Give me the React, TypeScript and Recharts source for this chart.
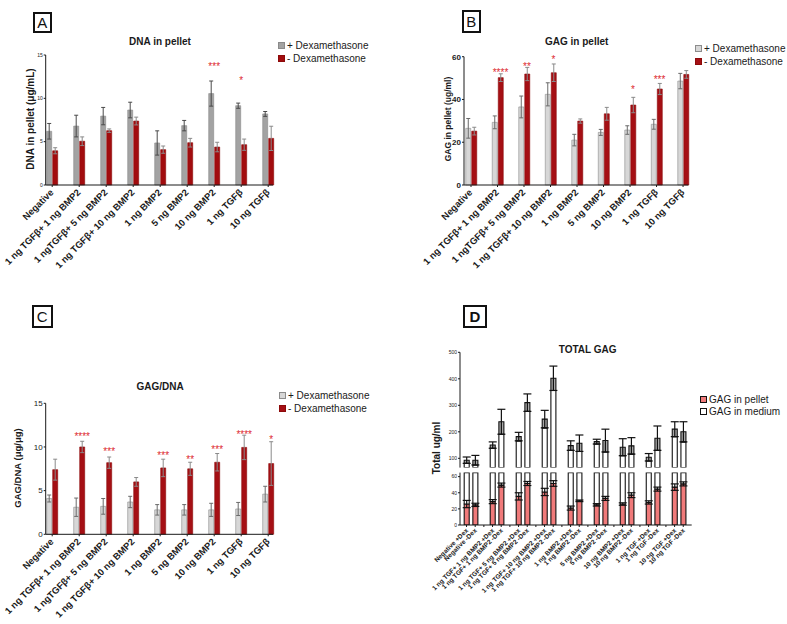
import React from 'react';
import { ComposedChart, Bar, Line, XAxis, YAxis, ErrorBar, LabelList, Legend } from 'recharts';

const FONT = '"Liberation Sans", Arial, Helvetica, sans-serif';
const INK = '#1a1a1a';
const STAR_RED = '#dd2a2f';

// ---------- shared categories (panels A, B, C) ----------
const groupLabels = [
  'Negative',
  '1 ng TGFβ+ 1 ng BMP2',
  '1 ngTGFβ+ 5 ng BMP2',
  '1 ng TGFβ+ 10 ng BMP2',
  '1 ng BMP2',
  '5 ng BMP2',
  '10 ng BMP2',
  '1 ng TGFβ',
  '10 ng TGFβ',
];

// ---------- Panel A: DNA in pellet ----------
const dnaPlus = [6.2, 6.8, 7.95, 8.65, 4.85, 6.85, 10.55, 9.15, 8.2];
const dnaPlusErr = [0.9, 1.25, 1.0, 0.9, 1.4, 0.6, 1.45, 0.3, 0.28];
const dnaMinus = [3.95, 5.05, 6.27, 7.38, 4.08, 4.88, 4.38, 4.65, 5.38];
const dnaMinusErr = [0.35, 0.5, 0.2, 0.45, 0.42, 0.5, 0.55, 0.65, 1.4];
const dnaStars = ['', '', '', '', '', '', '***', '*', ''];
const dnaStarY: (number | null)[] = [null, null, null, null, null, null, 13.85, 12.3, null];

// ---------- Panel B: GAG in pellet ----------
const gagPlus = [26.5, 29.3, 36.5, 42.4, 21.0, 24.6, 25.7, 28.4, 48.6];
const gagPlusErr = [4.6, 3.0, 5.1, 5.4, 2.7, 1.4, 2.0, 2.3, 3.6];
const gagMinus = [25.2, 50.2, 51.9, 52.5, 29.9, 33.3, 37.4, 44.9, 51.7];
const gagMinusErr = [1.8, 1.8, 3.1, 4.1, 1.0, 3.0, 3.6, 2.6, 1.8];
const gagStars = ['', '****', '**', '*', '', '', '*', '***', ''];
const gagStarY: (number | null)[] = [null, 53.4, 56.4, 59.7, null, null, 45.7, 50.2, null];

// ---------- Panel C: GAG/DNA ----------
const ratioPlus = [4.1, 3.1, 3.2, 3.7, 2.8, 2.8, 2.8, 2.9, 4.6];
const ratioPlusErr = [0.4, 1.05, 0.9, 0.65, 0.6, 0.6, 0.75, 0.75, 0.9];
const ratioMinus = [7.4, 10.0, 8.2, 6.0, 7.6, 7.5, 8.25, 9.95, 8.1];
const ratioMinusErr = [1.2, 0.65, 0.65, 0.5, 1.0, 0.75, 1.0, 1.4, 2.5];
const ratioStars = ['', '****', '***', '', '***', '**', '***', '****', '*'];
const ratioStarY: (number | null)[] = [null, 11.45, 9.75, null, 9.25, 8.85, 9.9, 11.65, 11.05];

// ---------- Panel D: TOTAL GAG ----------
const dLabels = [
  'Negative +Dex', 'Negative -Dex',
  '1 ng TGF+ 1 ng BMP2 +Dex', '1 ng TGF+ 1 ng BMP2 -Dex',
  '1 ng TGF+ 5 ng BMP2 +Dex', '1 ng TGF+ 5 ng BMP2 -Dex',
  '1 ng TGF+ 10 ng BMP2 +Dex', '1 ng TGF+ 10 ng BMP2 -Dex',
  '1 ng BMP2 +Dex', '1 ng BMP2 -Dex',
  '5 ng BMP2 +Dex', '5 ng BMP2 -Dex',
  '10 ng BMP2 +Dex', '10 ng BMP2 -Dex',
  '1 ng TGF +Dex', '1 ng TGF -Dex',
  '10 ng TGF +Dex', '10 ng TGF -Dex',
];
const dPellet = [26, 25, 29, 49.5, 35.5, 51.5, 41, 51.5, 21, 30, 25, 33, 26, 37, 28, 44.5, 47, 51];
const dPelletErr = [4.5, 2, 2.5, 2.5, 4.5, 2.5, 4.5, 3.5, 2.5, 1, 1.5, 2.5, 1.5, 3, 2, 2.5, 4, 2.5];
const dTotal = [93, 93, 150, 238, 182, 310, 248, 402, 148, 157, 163, 167, 142, 147, 104, 176, 210, 200];
const dTotalErr = [12, 18, 12, 47, 16, 33, 33, 46, 18, 31, 9, 43, 32, 31, 14, 46, 28, 38];

const dexLegend = ['+ Dexamethasone', '- Dexamethasone'];
const dLegend = ['GAG in pellet', 'GAG in medium'];

// ---------- table builders ----------
type GroupRow = {
  name: string; plus: number; plusErr: number; minus: number; minusErr: number;
  stars: string; starY: number | null;
};
const makeRows = (
  plus: number[], plusErr: number[], minus: number[], minusErr: number[],
  stars: string[], starY: (number | null)[]
): GroupRow[] =>
  groupLabels.map((name, i) => ({
    name, plus: plus[i], plusErr: plusErr[i], minus: minus[i], minusErr: minusErr[i],
    stars: stars[i], starY: starY[i],
  }));

const rowsA = makeRows(dnaPlus, dnaPlusErr, dnaMinus, dnaMinusErr, dnaStars, dnaStarY);
const rowsB = makeRows(gagPlus, gagPlusErr, gagMinus, gagMinusErr, gagStars, gagStarY);
const rowsC = makeRows(ratioPlus, ratioPlusErr, ratioMinus, ratioMinusErr, ratioStars, ratioStarY);

type DRow = {
  key: string; label: string;
  pellet?: number; pelletErr?: number; rest?: number;
  lower?: number; box?: number; boxErr?: number;
};
const dRows: DRow[] = [];
dLabels.forEach((label, i) => {
  dRows.push({
    key: `s${i}`, label,
    pellet: dPellet[i], pelletErr: dPelletErr[i], rest: dTotal[i] - dPellet[i],
    lower: dTotal[i] - dTotalErr[i], box: dTotalErr[i], boxErr: dTotalErr[i],
  });
  if (i % 2 === 1 && i < dLabels.length - 1) dRows.push({ key: `gap${i}`, label: '' });
});
const dLabelByKey: Record<string, string> = {};
dRows.forEach((r) => { dLabelByKey[r.key] = r.label; });

// ---------- small components ----------
type LegendItem = { label: string; fill: string; stroke: string };
const LegendBox = ({ items, rowH, sq }: { items: LegendItem[]; rowH: number; sq: number }) => (
  <div style={{ fontFamily: FONT, fontSize: 10, color: INK }}>
    {items.map((it) => (
      <div key={it.label} style={{ display: 'flex', alignItems: 'center', height: rowH, whiteSpace: 'nowrap' }}>
        <span style={{
          display: 'inline-block', width: sq, height: sq, background: it.fill,
          border: `1px solid ${it.stroke}`, boxSizing: 'border-box', marginRight: 2,
        }} />
        <span>{it.label}</span>
      </div>
    ))}
  </div>
);

const CenterText = ({ x, y, size, bold, rotate, children }: any) => (
  <div style={{
    position: 'absolute', left: x, top: y,
    transform: `translate(-50%,-50%)${rotate ? ` rotate(${rotate}deg)` : ''}`,
    fontSize: size, fontWeight: bold ? 'bold' : 'normal', whiteSpace: 'nowrap',
    lineHeight: 1, color: INK, fontFamily: FONT,
  }}>{children}</div>
);

const PanelLetter = ({ x, y, w, h, letter, bold }: any) => (
  <div style={{
    position: 'absolute', left: x, top: y, width: w, height: h, boxSizing: 'border-box',
    border: '2px solid #111', display: 'flex', alignItems: 'center', justifyContent: 'center',
    fontSize: 15, fontWeight: bold ? 'bold' : 'normal', fontFamily: FONT, color: '#111',
  }}>{letter}</div>
);

const RotTick = (props: any) => {
  const { x, y, payload, fs, ox, oy, lookup } = props;
  const text = lookup ? lookup[payload.value] : payload.value;
  if (!text) return <g />;
  const px = x + ox;
  const py = y + oy;
  return (
    <text x={px} y={py} textAnchor="end" transform={`rotate(-45 ${px} ${py})`}
      fontSize={fs} fontWeight="bold" fill={INK} fontFamily={FONT}>{text}</text>
  );
};

const makeStar = (dx: number) => (p: any) => {
  const value = p.value;
  const x = p.x ?? p.viewBox?.x;
  const y = p.y ?? p.viewBox?.y;
  if (!value || y == null || Number.isNaN(y) || x == null) return null;
  return (
    <text x={x + dx} y={y + 5.5} textAnchor="middle" fontSize={10} fill={STAR_RED} fontFamily={FONT}>
      {value}
    </text>
  );
};

type GroupPanelProps = {
  rows: GroupRow[];
  left: number; top: number; width: number; height: number;
  margin: { top: number; right: number; bottom: number; left: number };
  xHeight: number; domain: [number, number]; ticks: number[];
  yTickFs: number; yTickBold: boolean;
  padL: number; padR: number;
  plusFill: string; plusStroke: string; plusErr: string;
  minusFill: string; minusStroke: string; minusErr: string;
  starDx: number; legendLeft: number; legendTop: number;
};

const GroupPanel = (p: GroupPanelProps) => {
  const items: LegendItem[] = [
    { label: dexLegend[0], fill: p.plusFill, stroke: p.plusStroke },
    { label: dexLegend[1], fill: p.minusFill, stroke: p.minusStroke },
  ];
  return (
    <div style={{ position: 'absolute', left: p.left, top: p.top, width: p.width, height: p.height }}>
      <ComposedChart width={p.width} height={p.height} data={p.rows} margin={p.margin} barGap={1}>
        <XAxis dataKey="name" type="category" interval={0} height={p.xHeight}
          padding={{ left: p.padL, right: p.padR }}
          axisLine={{ stroke: INK }} tickLine={{ stroke: INK }} tickSize={2} tickMargin={0}
          tick={(tp: any) => <RotTick {...tp} fs={9.4} ox={2} oy={6} />} />
        <YAxis type="number" domain={p.domain} ticks={p.ticks} interval={0} width={20}
          axisLine={{ stroke: INK }} tickLine={{ stroke: INK }} tickSize={2} tickMargin={1}
          tick={{ fontSize: p.yTickFs, fill: INK, fontWeight: p.yTickBold ? 'bold' : 'normal', fontFamily: FONT }} />
        <Bar dataKey="plus" barSize={5} fill={p.plusFill} stroke={p.plusStroke} strokeWidth={0.6}
          isAnimationActive={false}>
          <ErrorBar dataKey="plusErr" width={2} stroke={p.plusErr} strokeWidth={1} />
        </Bar>
        <Bar dataKey="minus" barSize={5} fill={p.minusFill} stroke={p.minusStroke} strokeWidth={0.6}
          isAnimationActive={false}>
          <ErrorBar dataKey="minusErr" width={2} stroke={p.minusErr} strokeWidth={1} />
        </Bar>
        <Line dataKey="starY" stroke="none" dot={false} activeDot={false} legendType="none"
          isAnimationActive={false}>
          <LabelList dataKey="stars" content={makeStar(p.starDx)} />
        </Line>
        <Legend layout="vertical" align="center" verticalAlign="middle"
          wrapperStyle={{ left: p.legendLeft, top: p.legendTop, width: 110 }}
          content={() => <LegendBox items={items} rowH={13} sq={7} />} />
      </ComposedChart>
    </div>
  );
};

const PINK = '#f07a7a';

const DPanel = () => {
  const xTick = (tp: any) => <RotTick {...tp} fs={6.5} ox={2} oy={4} lookup={dLabelByKey} />;
  const items: LegendItem[] = [
    { label: dLegend[0], fill: PINK, stroke: '#111' },
    { label: dLegend[1], fill: '#ffffff', stroke: '#111' },
  ];
  const yTick = { fontSize: 5, fill: INK, fontFamily: FONT };
  return (
    <>
      <div style={{ position: 'absolute', left: 400, top: 340, width: 387, height: 130 }}>
        <ComposedChart width={387} height={130} data={dRows}
          margin={{ top: 12.3, right: 95.3, bottom: 2.4, left: 40 }}>
          <XAxis dataKey="key" type="category" interval={0} hide padding={{ left: 2.2, right: 4.1 }} />
          <YAxis type="number" domain={[65, 500]} ticks={[100, 200, 300, 400, 500]} interval={0}
            allowDataOverflow width={20} axisLine={{ stroke: INK }} tickLine={{ stroke: INK }}
            tickSize={2} tickMargin={1} tick={yTick} />
          <Bar dataKey="lower" stackId="m" barSize={5} fill="#ffffff" stroke="#111" strokeWidth={1.1}
            isAnimationActive={false} />
          <Bar dataKey="box" stackId="m" barSize={5} fill="#a9a9a9" stroke="#111" strokeWidth={1.1}
            isAnimationActive={false}>
            <ErrorBar dataKey="boxErr" width={4} stroke="#111" strokeWidth={1.2} />
          </Bar>
          <Legend layout="vertical" align="center" verticalAlign="middle"
            wrapperStyle={{ left: 300, top: 53.5, width: 90 }}
            content={() => <LegendBox items={items} rowH={12.3} sq={7} />} />
        </ComposedChart>
      </div>
      <div style={{ position: 'absolute', left: 400, top: 460, width: 387, height: 164 }}>
        <ComposedChart width={387} height={164} data={dRows}
          margin={{ top: 12.6, right: 95.3, bottom: 9, left: 40 }}>
          <XAxis dataKey="key" type="category" interval={0} height={90}
            padding={{ left: 2.2, right: 4.1 }}
            axisLine={{ stroke: INK }} tickLine={{ stroke: INK }} tickSize={2} tickMargin={0}
            tick={xTick} />
          <YAxis type="number" domain={[0, 65]} ticks={[0, 20, 40, 60]} interval={0}
            allowDataOverflow width={20} axisLine={{ stroke: INK }} tickLine={{ stroke: INK }}
            tickSize={2} tickMargin={1} tick={yTick} />
          <Bar dataKey="pellet" stackId="p" barSize={5} fill={PINK} stroke="#111" strokeWidth={1.1}
            isAnimationActive={false}>
            <ErrorBar dataKey="pelletErr" width={4} stroke="#111" strokeWidth={1.2} />
          </Bar>
          <Bar dataKey="rest" stackId="p" barSize={5} fill="#ffffff" stroke="#111" strokeWidth={1.1}
            isAnimationActive={false} />
        </ComposedChart>
      </div>
    </>
  );
};

export default function App() {
  return (
    <div style={{
      position: 'absolute', left: 0, top: 0, width: 787, height: 624, background: '#ffffff',
      fontFamily: FONT, overflow: 'hidden',
    }}>
      <PanelLetter x={32.7} y={11.7} w={19} h={21.6} letter="A" />
      <PanelLetter x={461.7} y={10} w={19} h={23.3} letter="B" />
      <PanelLetter x={31.7} y={305} w={21} h={23.3} letter="C" />
      <PanelLetter x={462.7} y={305} w={24.6} h={23.3} letter="D" bold />

      <GroupPanel rows={rowsA} left={0} top={0} width={390} height={300}
        margin={{ top: 55, right: 117, bottom: 15, left: 25.7 }} xHeight={100}
        domain={[0, 15]} ticks={[0, 5, 10, 15]} yTickFs={5} yTickBold={false}
        padL={-7} padR={-8.7}
        plusFill="#a3a3a3" plusStroke="#8a8a8a" plusErr="#4a4a4a"
        minusFill="#a20c0e" minusStroke="#8c0a0a" minusErr="#8a8a8a"
        starDx={0} legendLeft={278} legendTop={39} />

      <GroupPanel rows={rowsB} left={390} top={0} width={397} height={300}
        margin={{ top: 56.7, right: 98.7, bottom: 15, left: 54 }} xHeight={100}
        domain={[0, 60]} ticks={[0, 20, 40, 60]} yTickFs={8} yTickBold
        padL={-6.25} padR={-8}
        plusFill="#d7d7d7" plusStroke="#8c8c8c" plusErr="#6a6a6a"
        minusFill="#a50f14" minusStroke="#8c0a0a" minusErr="#8a8a8a"
        starDx={3} legendLeft={305} legendTop={42} />

      <GroupPanel rows={rowsC} left={0} top={300} width={390} height={324}
        margin={{ top: 103.3, right: 117, bottom: 9.7, left: 25.7 }} xHeight={80}
        domain={[0, 15]} ticks={[0, 5, 10, 15]} yTickFs={8} yTickBold={false}
        padL={-7} padR={-8.7}
        plusFill="#d7d7d7" plusStroke="#8c8c8c" plusErr="#6a6a6a"
        minusFill="#a50f14" minusStroke="#8c0a0a" minusErr="#8a8a8a"
        starDx={3} legendLeft={279} legendTop={88.8} />

      <DPanel />

      <CenterText x={160} y={42} size={10} bold>DNA in pellet</CenterText>
      <CenterText x={576.7} y={41.7} size={10} bold>GAG in pellet</CenterText>
      <CenterText x={160} y={387.3} size={10} bold>GAG/DNA</CenterText>
      <CenterText x={587.7} y={350} size={10} bold>TOTAL GAG</CenterText>

      <CenterText x={31.3} y={119} size={10} bold rotate={-90}>DNA in pellet (μg/mL)</CenterText>
      <CenterText x={447.5} y={118.7} size={8.5} bold rotate={-90}>GAG in pellet (ug/ml)</CenterText>
      <CenterText x={17.5} y={468} size={9.5} bold rotate={-90}>GAG/DNA (μg/μg)</CenterText>
      <CenterText x={436.5} y={448.3} size={10} bold rotate={-90}>Total ug/ml</CenterText>
    </div>
  );
}
